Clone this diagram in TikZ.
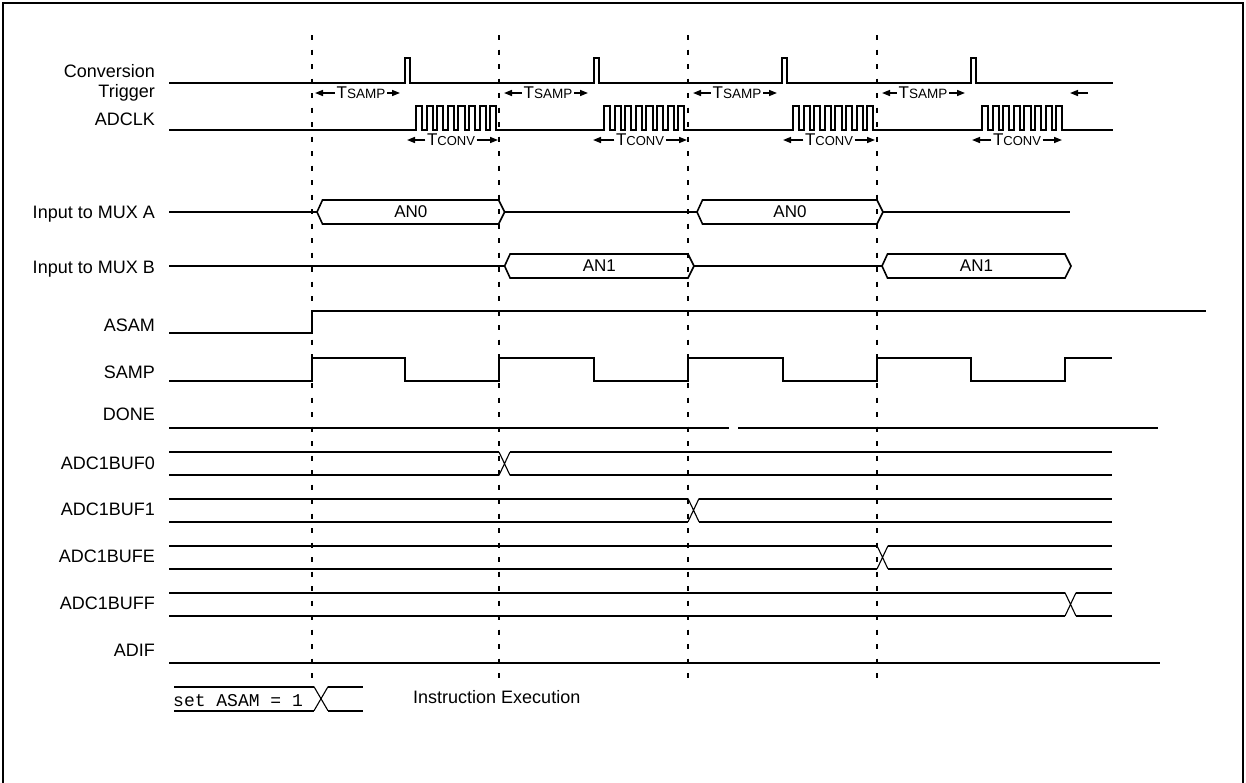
\documentclass[tikz,border=0pt]{standalone}
\usepackage{fontspec}
\setmainfont{Liberation Sans}
\newfontfamily\monofont{Liberation Mono}
\usetikzlibrary{arrows.meta}

\begin{document}
\begin{tikzpicture}[x=1pt, y=-1pt,
  sig/.style={line width=2pt, line join=miter},
  hexline/.style={line width=1.6pt},
  crossline/.style={line width=1.1pt},
  gridline/.style={line width=2pt, dash pattern=on 5pt off 9.5pt},
  lbl/.style={font=\fontsize{18}{20}\selectfont, inner sep=0pt, align=right},
  valtxt/.style={font=\fontsize{17}{17}\selectfont, inner sep=0pt},
  monotxt/.style={font=\monofont\fontsize{18}{18}\selectfont, inner sep=0pt},
  tmark/.style={font=\fontsize{17}{17}\selectfont, inner sep=1.5pt},
  dimarrow/.style={-{Triangle[length=8pt, width=6pt]}, line width=1.5pt}]
  \useasboundingbox (0,0) rectangle (1246,782);
  % Frame
  \draw[sig] (3,795) -- (3,3) -- (1243,3) -- (1243,795);
  % Sample edges
  \foreach \x in {312,499,688,877}
    \draw[gridline] (\x,35) -- (\x,680);
  % Signal names
  \node[lbl, anchor=east] (lblTrig) at (155,83) {Conversion\\Trigger};
  \node[lbl, anchor=base east] (lblAdclk) at (155,125) {ADCLK};
  \node[lbl, anchor=base east] (lblMuxA) at (155,218.5) {Input to MUX A};
  \node[lbl, anchor=base east] (lblMuxB) at (155,273.5) {Input to MUX B};
  \node[lbl, anchor=base east] (lblAsam) at (155,331.5) {ASAM};
  \node[lbl, anchor=base east] (lblSamp) at (155,378.5) {SAMP};
  \node[lbl, anchor=base east] (lblDone) at (155,420.5) {DONE};
  \node[lbl, anchor=base east] (lblBufZero) at (155,469.5) {ADC1BUF0};
  \node[lbl, anchor=base east] (lblBufOne) at (155,515.5) {ADC1BUF1};
  \node[lbl, anchor=base east] (lblBufE) at (155,562.5) {ADC1BUFE};
  \node[lbl, anchor=base east] (lblBufF) at (155,609.5) {ADC1BUFF};
  \node[lbl, anchor=base east] (lblAdif) at (155,656.5) {ADIF};
  % Conversion trigger
  \draw[sig] (169,82.7) foreach \t in {405,594,782,971} { -- (\t,82.7) -- (\t,58) -- ({\t+5},58) -- ({\t+5},82.7) } -- (1113,82.7);
  % ADCLK bursts
  \draw[sig] (169,130) foreach \s in {416,604,793,982} { foreach \k in {0,...,7} { -- ({\s+\k*10.6},130) -- ({\s+\k*10.6},106) -- ({\s+\k*10.6+6.2},106) -- ({\s+\k*10.6+6.2},130) } } -- (1113,130);
  % TSAMP
  \foreach \x/\l/\r [count=\i] in {361/315/400, 548/504/588, 737/693/777, 923/882/965} {
    \node[tmark] (tsamp\i) at (\x,93) {T{\fontsize{13.5}{13.5}\selectfont SAMP}};
    \coordinate (tsampL\i) at (\l,93);
    \coordinate (tsampR\i) at (\r,93);
    \draw[dimarrow] (tsamp\i.west) -- (tsampL\i);
    \draw[dimarrow] (tsamp\i.east) -- (tsampR\i);
  }
  \coordinate (tsampTail) at (1088,93);
  \coordinate (tsampTip) at (1070,93);
  \draw[dimarrow] (tsampTail) -- (tsampTip);
  % TCONV
  \foreach \x/\l/\r [count=\i] in {451/407/498, 640/593/687, 829/783/875, 1017/972/1062} {
    \node[tmark] (tconv\i) at (\x,140) {T{\fontsize{13}{13}\selectfont CONV}};
    \coordinate (tconvL\i) at (\l,140);
    \coordinate (tconvR\i) at (\r,140);
    \draw[dimarrow] (tconv\i.west) -- (tconvL\i);
    \draw[dimarrow] (tconv\i.east) -- (tconvR\i);
  }
  % MUX inputs
  \draw[sig] (169,212) -- (317,212) (504.6,212) -- (697,212) (883,212) -- (1070,212);
  \draw[sig] (169,266) -- (504.6,266) (694,266) -- (882,266);
  \foreach \l/\r/\y/\t [count=\i] in {317/504.6/212/AN0, 697/883/212/AN0, 504.6/694/266/AN1, 882/1071/266/AN1} {
    \draw[hexline] (\l,\y) -- ({\l+5.5},{\y-12}) -- ({\r-6},{\y-12}) -- (\r,\y) -- ({\r-6},{\y+12}) -- ({\l+5.5},{\y+12}) -- cycle;
    \node[valtxt] (an\i) at ({(\l+\r)/2},\y) {\t};
  }
  % ASAM
  \draw[sig] (169,333) -- (312,333) -- (312,311) -- (1206,311);
  % SAMP
  \draw[sig] (169,381) foreach \r/\f in {312/405, 499/594, 688/783, 877/971} { -- (\r,381) -- (\r,358) -- (\f,358) -- (\f,381) } -- (1065,381) -- (1065,358) -- (1112,358);
  % DONE
  \draw[sig] (169,427.7) -- (729,427.7) (738,427.7) -- (1158,427.7);
  % Result buffers
  \foreach \y/\c in {452/499, 498.5/688, 545.7/877, 592.7/1065} {
    \draw[sig] (169,\y) -- (\c,\y) (169,{\y+23.3}) -- (\c,{\y+23.3})
      ({\c+11},\y) -- (1112,\y) ({\c+11},{\y+23.3}) -- (1112,{\y+23.3});
    \draw[crossline] (\c,\y) -- ({\c+11},{\y+23.3}) (\c,{\y+23.3}) -- ({\c+11},\y);
  }
  % ADIF
  \draw[sig] (169,662.7) -- (1160,662.7);
  % Legend
  \draw[sig] (174,686.7) -- (314,686.7) (174,710.7) -- (314,710.7)
    (328,686.7) -- (362.5,686.7) (328,710.7) -- (362.5,710.7);
  \draw[crossline] (314,686.7) -- (328,710.7) (314,710.7) -- (328,686.7);
  \node[monotxt, anchor=base west] (setAsam) at (173,706) {set ASAM = 1};
  \node[lbl, anchor=base west] (instrExec) at (413,703) {Instruction Execution};
\end{tikzpicture}
\end{document}
